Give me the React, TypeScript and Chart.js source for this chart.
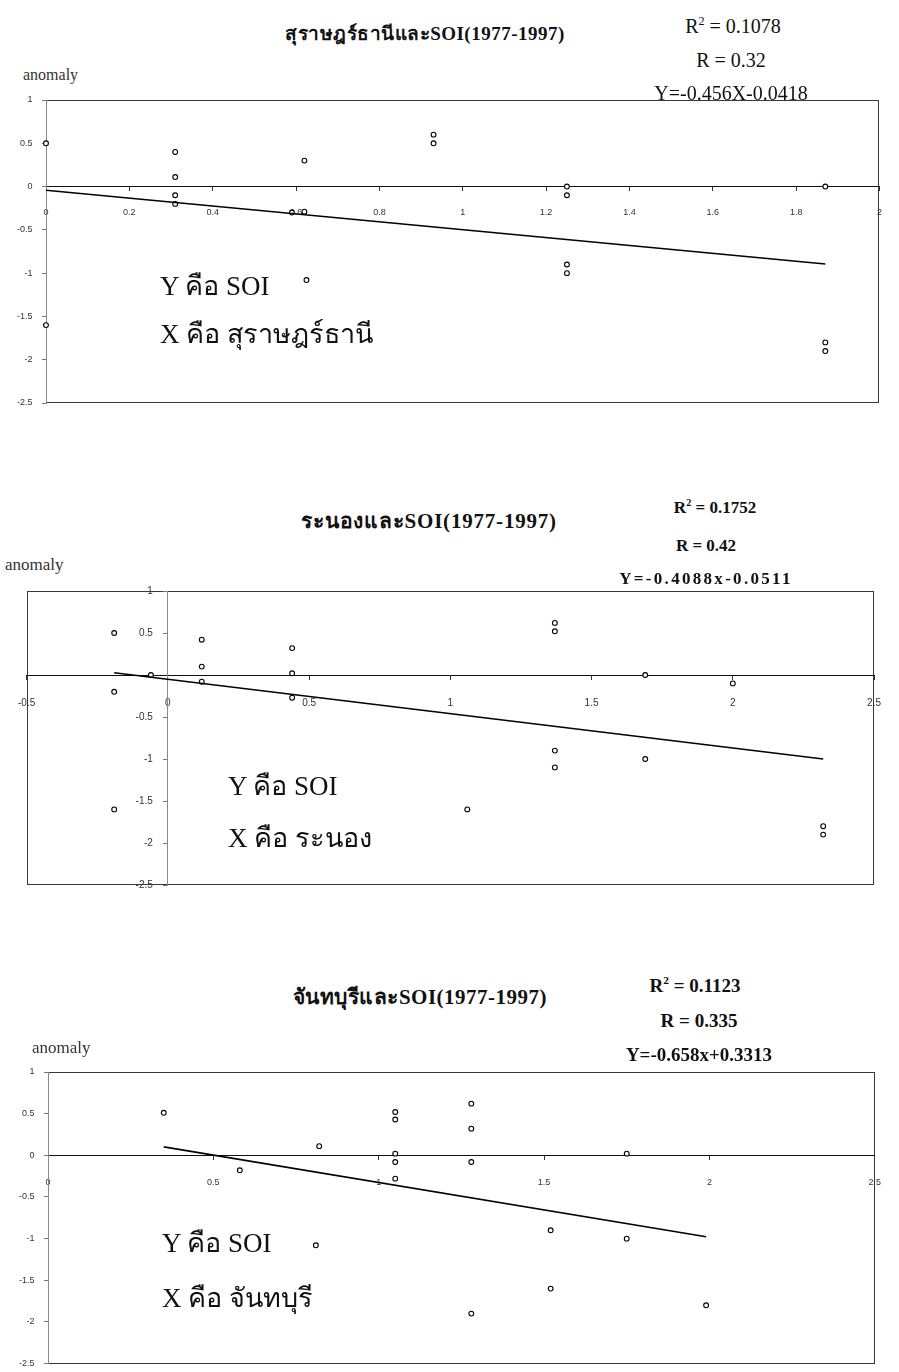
import React, { useEffect, useRef } from "react";
import { Chart, registerables } from "chart.js";

Chart.register(...registerables);

// ---------- Data ----------
// Chart 1: สุราษฎร์ธานี vs SOI
const suratX = [0, 0, 0.31, 0.31, 0.31, 0.31, 0.59, 0.62, 0.62, 0.625, 0.93, 0.93, 1.25, 1.25, 1.25, 1.25, 1.87, 1.87, 1.87];
const suratY = [0.5, -1.6, 0.4, 0.11, -0.1, -0.2, -0.3, -0.29, 0.3, -1.08, 0.6, 0.5, 0, -0.1, -0.9, -1.0, 0, -1.8, -1.9];

// Chart 2: ระนอง vs SOI
const ranongX = [-0.19, -0.19, -0.19, -0.06, 0.12, 0.12, 0.12, 0.44, 0.44, 0.44, 1.06, 1.37, 1.37, 1.37, 1.37, 1.69, 1.69, 2.0, 2.32, 2.32];
const ranongY = [0.5, -0.2, -1.6, 0, 0.42, 0.1, -0.08, 0.32, 0.02, -0.27, -1.6, 0.62, 0.52, -0.9, -1.1, 0, -1.0, -0.1, -1.8, -1.9];

// Chart 3: จันทบุรี vs SOI
const chanX = [0.35, 0.58, 0.81, 0.82, 1.05, 1.05, 1.05, 1.05, 1.05, 1.28, 1.28, 1.28, 1.28, 1.52, 1.52, 1.75, 1.75, 1.99];
const chanY = [0.51, -0.18, -1.08, 0.11, 0.52, 0.43, 0.02, -0.08, -0.28, 0.62, 0.32, -0.08, -1.9, -0.9, -1.6, 0.02, -1.0, -1.8];

// Regression lines
const slopes = [-0.456, -0.4088, -0.658];
const intercepts = [-0.0418, -0.0511, 0.3313];

// Axis ranges / ticks
const xMins = [0, -0.5, 0];
const xMaxs = [2, 2.5, 2.5];
const xSteps = [0.2, 0.5, 0.5];
const yMin = -2.5;
const yMax = 1;
const yStep = 0.5;

// Texts
const titles = ["สุราษฎร์ธานีและSOI(1977-1997)", "ระนองและSOI(1977-1997)", "จันทบุรีและSOI(1977-1997)"];
const r2Values = ["0.1078", "0.1752", "0.1123"];
const rValues = ["0.32", "0.42", "0.335"];
const equations = ["Y=-0.456X-0.0418", "Y=-0.4088x-0.0511", "Y=-0.658x+0.3313"];
const xNames = ["สุราษฎร์ธานี", "ระนอง", "จันทบุรี"];
const yAxisName = "anomaly";

// ---------- Layout ----------
type Layout = {
  top: number;
  height: number;
  pad: { left: number; right: number; top: number; bottom: number };
  xLabelPad: number;
  yGap: string;
  tickFont: number;
  hideYZero: boolean;
};

const layouts: Layout[] = [
  { top: 85, height: 340, pad: { left: 46, right: 11, top: 15, bottom: 22 }, xLabelPad: 17, yGap: "\u2002\u2002\u2002", tickFont: 9, hideYZero: false },
  { top: 576, height: 330, pad: { left: 21, right: 11, top: 15, bottom: 21 }, xLabelPad: 18, yGap: "\u2002\u2002\u2002", tickFont: 10, hideYZero: true },
  { top: 1057, height: 315, pad: { left: 48, right: 5, top: 15, bottom: 7 }, xLabelPad: 18, yGap: "\u2002\u2002\u2002", tickFont: 9, hideYZero: false },
];

const boxPlugin = {
  id: "plotBox",
  beforeDraw(chart: any) {
    const { ctx, chartArea: a } = chart;
    ctx.save();
    ctx.strokeStyle = "#3a3a3a";
    ctx.lineWidth = 1;
    ctx.strokeRect(Math.round(a.left) + 0.5, Math.round(a.top) + 0.5, Math.round(a.right - a.left) - 1, Math.round(a.bottom - a.top) - 1);
    ctx.restore();
  },
};

function fmt(v: number) {
  const r = Math.round(v * 10) / 10;
  return String(r);
}

function Panel({ idx, xs, ys }: { idx: number; xs: number[]; ys: number[] }) {
  const ref = useRef<HTMLCanvasElement | null>(null);
  const L = layouts[idx];
  useEffect(() => {
    if (!ref.current) return;
    const lo = Math.min(...xs);
    const hi = Math.max(...xs);
    const trend = [lo, hi].map((x) => ({ x, y: slopes[idx] * x + intercepts[idx] }));
    const pts = xs.map((x, i) => ({ x, y: ys[i] }));
    const tickFontObj = { size: L.tickFont, family: "'Liberation Sans', Arial, sans-serif" };
    const chart = new Chart(ref.current, {
      type: "scatter",
      data: {
        datasets: [
          {
            data: trend,
            showLine: true,
            borderColor: "#000",
            borderWidth: 1.6,
            pointRadius: 0,
            clip: false,
          } as any,
          {
            data: pts,
            showLine: false,
            pointRadius: 2.4,
            pointBorderWidth: 1.1,
            pointBorderColor: "#000",
            pointBackgroundColor: "#fff",
            clip: false,
          } as any,
        ],
      },
      options: {
        responsive: false,
        animation: false,
        layout: { padding: L.pad },
        plugins: { legend: { display: false }, tooltip: { enabled: false }, title: { display: false } },
        scales: {
          x: {
            type: "linear",
            min: xMins[idx],
            max: xMaxs[idx],
            position: { y: 0 } as any,
            ticks: {
              stepSize: xSteps[idx],
              autoSkip: false,
              maxRotation: 0,
              padding: L.xLabelPad,
              font: tickFontObj,
              color: "#333",
              callback: (v: any) => fmt(Number(v)),
            },
            grid: { display: true, drawOnChartArea: false, drawTicks: true, tickLength: 4, color: "#333" },
            border: { display: true, color: "#111", width: 1 },
          },
          y: {
            type: "linear",
            min: yMin,
            max: yMax,
            position: { x: 0 } as any,
            ticks: {
              stepSize: yStep,
              font: tickFontObj,
              color: "#333",
              callback: (v: any) => (L.hideYZero && Number(v) === 0 ? "" : fmt(Number(v)) + L.yGap),
            },
            grid: { display: true, drawOnChartArea: false, drawTicks: true, tickLength: 4, color: "#777" },
            border: { display: true, color: "#888", width: 1 },
          },
        },
      },
      plugins: [boxPlugin],
    } as any);
    return () => chart.destroy();
  }, []);
  return (
    <canvas
      ref={ref}
      width={899}
      height={L.height}
      style={{ position: "absolute", left: 0, top: L.top, width: 899, height: L.height }}
    />
  );
}

const serif = "'Liberation Serif', 'Times New Roman', 'DejaVu Serif', serif";

function Txt({ x, y, children, size, bold, align, color, spacing }: any) {
  const tx = align === "left" ? "0" : "-50%";
  return (
    <div
      style={{
        position: "absolute",
        left: x,
        top: y,
        transform: `translate(${tx}, -50%)`,
        fontFamily: serif,
        fontSize: size,
        fontWeight: bold ? "bold" : "normal",
        whiteSpace: "nowrap",
        lineHeight: 1.2,
        letterSpacing: spacing || 0,
        color: color || "#111",
      }}
    >
      {children}
    </div>
  );
}

type TextPos = {
  titleX: number; titleY: number; titleSize: number; titleSpacing: number;
  statX: number; r2X: number; r2Y: number; rY: number; eqY: number; statSize: number; statBold: boolean; eqSpacing: number;
  anomX: number; anomY: number; anomSize: number;
  noteX: number; yNoteY: number; xNoteY: number;
};

const textPos: TextPos[] = [
  { titleX: 425, titleY: 34, titleSize: 19, titleSpacing: 0.5, statX: 731, r2X: 733, r2Y: 26, rY: 60, eqY: 93, statSize: 20, statBold: false, eqSpacing: 0, anomX: 23, anomY: 75, anomSize: 16, noteX: 160, yNoteY: 286, xNoteY: 334 },
  { titleX: 429, titleY: 522, titleSize: 21, titleSpacing: 0.8, statX: 706, r2X: 715, r2Y: 508, rY: 546, eqY: 579, statSize: 17, statBold: true, eqSpacing: 2.3, anomX: 5, anomY: 565, anomSize: 17, noteX: 228, yNoteY: 786, xNoteY: 838 },
  { titleX: 420, titleY: 998, titleSize: 21, titleSpacing: 0.5, statX: 699, r2X: 695, r2Y: 986, rY: 1021, eqY: 1055, statSize: 19, statBold: true, eqSpacing: 0, anomX: 32, anomY: 1048, anomSize: 17, noteX: 162, yNoteY: 1243, xNoteY: 1298 },
];

export default function App() {
  const sets = [
    [suratX, suratY],
    [ranongX, ranongY],
    [chanX, chanY],
  ];
  return (
    <div style={{ position: "absolute", left: 0, top: 0, width: 899, height: 1372, background: "#fff", overflow: "hidden" }}>
      {sets.map((s, i) => (
        <Panel key={"p" + i} idx={i} xs={s[0]} ys={s[1]} />
      ))}
      {textPos.map((t, i) => (
        <React.Fragment key={"t" + i}>
          <Txt x={t.titleX} y={t.titleY} size={t.titleSize} bold spacing={t.titleSpacing}>
            {titles[i]}
          </Txt>
          <Txt x={t.r2X} y={t.r2Y} size={t.statSize} bold={t.statBold}>
            R<sup style={{ fontSize: "60%", verticalAlign: "0.7em" }}>2</sup> = {r2Values[i]}
          </Txt>
          <Txt x={t.statX} y={t.rY} size={t.statSize} bold={t.statBold}>
            R = {rValues[i]}
          </Txt>
          <Txt x={t.statX} y={t.eqY} size={t.statSize} bold={t.statBold} spacing={t.eqSpacing}>
            {equations[i]}
          </Txt>
          <Txt x={t.anomX} y={t.anomY} size={t.anomSize} align="left" color="#333">
            {yAxisName}
          </Txt>
          <Txt x={t.noteX} y={t.yNoteY} size={27} align="left">
            Y คือ SOI
          </Txt>
          <Txt x={t.noteX} y={t.xNoteY} size={27} align="left">
            X คือ {xNames[i]}
          </Txt>
        </React.Fragment>
      ))}
    </div>
  );
}
